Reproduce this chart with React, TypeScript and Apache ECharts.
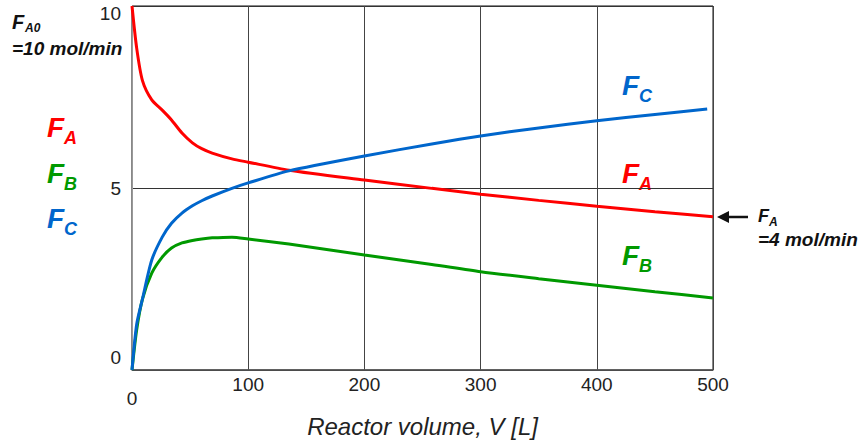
import React, { useEffect, useRef } from "react";
import * as echarts from "echarts";

const volumes = [0, 4, 9, 17, 26, 34, 43, 52, 60, 69, 86, 100, 135, 200, 258, 300, 350, 400, 450, 500];
const fcVolumes = [0, 4, 9, 17, 26, 34, 43, 52, 60, 69, 86, 100, 135, 200, 258, 300, 350, 400, 450, 495];
const faValues = [10, 8.85, 7.95, 7.42, 7.14, 6.87, 6.51, 6.24, 6.08, 5.96, 5.8, 5.71, 5.49, 5.22, 4.99, 4.83, 4.66, 4.5, 4.35, 4.21];
const fbValues = [0, 1.1, 1.95, 2.66, 3.1, 3.35, 3.49, 3.56, 3.6, 3.63, 3.65, 3.6, 3.46, 3.16, 2.9, 2.7, 2.51, 2.33, 2.15, 1.98];
const fcValues = [0, 1.25, 1.95, 3.02, 3.65, 4.03, 4.31, 4.51, 4.65, 4.78, 4.99, 5.14, 5.47, 5.88, 6.21, 6.43, 6.65, 6.85, 7.02, 7.17];
const xTicks = [0, 100, 200, 300, 400, 500];
const yTicks = [0, 5, 10];

const RED = "#FF0000";
const GREEN = "#009900";
const BLUE = "#0066CC";
const FONT = "'Liberation Sans', Arial, sans-serif";

function fLabel(x: number, y: number, sub: string, color: string, size: number, subSize: number, subDx: number, subDy: number) {
  return [
    {
      type: "text",
      x,
      y,
      style: {
        text: "F",
        fill: color,
        font: `italic bold ${size}px ${FONT}`,
        textAlign: "left",
        textVerticalAlign: "middle",
      },
    },
    {
      type: "text",
      x: x + subDx,
      y: y + subDy,
      style: {
        text: sub,
        fill: color,
        font: `italic bold ${subSize}px ${FONT}`,
        textAlign: "left",
        textVerticalAlign: "middle",
      },
    },
  ];
}

export default function App() {
  const ref = useRef<HTMLDivElement>(null);
  useEffect(() => {
    if (!ref.current) return;
    const chart = echarts.init(ref.current, null, { renderer: "svg" });
    const pairs = (xs: number[], ys: number[]) => xs.map((v, i) => [v, ys[i]]);
    chart.setOption({
      animation: false,
      backgroundColor: "#fff",
      grid: {
        left: 132,
        right: 151,
        top: 6,
        bottom: 74,
        show: true,
        borderColor: "#111",
        borderWidth: 1,
        containLabel: false,
        outerBoundsMode: "none",
      },
      xAxis: {
        type: "value",
        min: 0,
        max: 500,
        interval: 100,
        name: "Reactor volume, V [L]",
        nameLocation: "middle",
        nameGap: 44,
        nameTextStyle: { fontFamily: FONT, fontSize: 24, fontStyle: "italic", color: "#222" },
        axisLine: { show: true, lineStyle: { color: "#555", width: 1.5 } },
        axisTick: { show: false },
        splitLine: { show: true, lineStyle: { color: "#444", width: 1 } },
        axisLabel: {
          margin: 5,
          fontFamily: FONT,
          fontSize: 19,
          color: "#222",
          formatter: (v: number) => (xTicks.indexOf(v) === 0 ? `{low|${v}}` : `${v}`),
          rich: { low: { fontFamily: FONT, fontSize: 19, color: "#222", padding: [14, 0, 0, 0] } },
        },
      },
      yAxis: {
        type: "value",
        min: 0,
        max: 10,
        interval: 5,
        axisLine: { show: true, lineStyle: { color: "#999", width: 1 } },
        axisTick: { show: false },
        splitLine: { show: true, lineStyle: { color: "#333", width: 1 } },
        axisLabel: {
          margin: 11,
          fontFamily: FONT,
          fontSize: 19,
          color: "#222",
          formatter: (v: number) => {
            if (v === yTicks[2]) return `{top|${v}}`;
            if (v === yTicks[0]) return `{bot|${v}}`;
            return `${v}`;
          },
          rich: {
            top: { fontFamily: FONT, fontSize: 19, color: "#222", padding: [14, 0, 0, 0] },
            bot: { fontFamily: FONT, fontSize: 19, color: "#222", padding: [0, 0, 26, 0] },
          },
        },
      },
      series: [
        {
          name: "FA",
          type: "line",
          data: pairs(volumes, faValues),
          smooth: 0.25,
          showSymbol: false,
          lineStyle: { color: RED, width: 3 },
          z: 3,
        },
        {
          name: "FB",
          type: "line",
          data: pairs(volumes, fbValues),
          smooth: 0.25,
          showSymbol: false,
          lineStyle: { color: GREEN, width: 3 },
          z: 3,
        },
        {
          name: "FC",
          type: "line",
          data: pairs(fcVolumes, fcValues),
          smooth: 0.25,
          showSymbol: false,
          lineStyle: { color: BLUE, width: 3 },
          z: 4,
        },
      ],
      graphic: [
        ...fLabel(12, 22, "A0", "#111", 20, 12, 13, 6),
        {
          type: "text",
          x: 12,
          y: 48,
          style: { text: "=10 mol/min", fill: "#111", font: `italic bold 19px ${FONT}`, textVerticalAlign: "middle" },
        },
        ...fLabel(47, 127, "A", RED, 28, 18, 17, 11),
        ...fLabel(47, 173, "B", GREEN, 28, 18, 17, 11),
        ...fLabel(47, 218, "C", BLUE, 28, 18, 17, 11),
        ...fLabel(622, 85, "C", BLUE, 28, 18, 17, 11),
        ...fLabel(622, 173, "A", RED, 28, 18, 17, 11),
        ...fLabel(622, 255, "B", GREEN, 28, 18, 17, 11),
        {
          type: "line",
          shape: { x1: 726, y1: 217, x2: 748, y2: 217 },
          style: { stroke: "#111", lineWidth: 2.5 },
        },
        {
          type: "polygon",
          shape: { points: [[717, 217], [729, 211], [729, 223]] },
          style: { fill: "#111" },
        },
        ...fLabel(758, 216, "A", "#111", 18, 12, 11, 6),
        {
          type: "text",
          x: 758,
          y: 239,
          style: { text: "=4 mol/min", fill: "#111", font: `italic bold 19px ${FONT}`, textVerticalAlign: "middle" },
        },
      ],
    });
    return () => chart.dispose();
  }, []);
  return <div ref={ref} style={{ width: 864, height: 444, position: "absolute", left: 0, top: 0 }} />;
}
